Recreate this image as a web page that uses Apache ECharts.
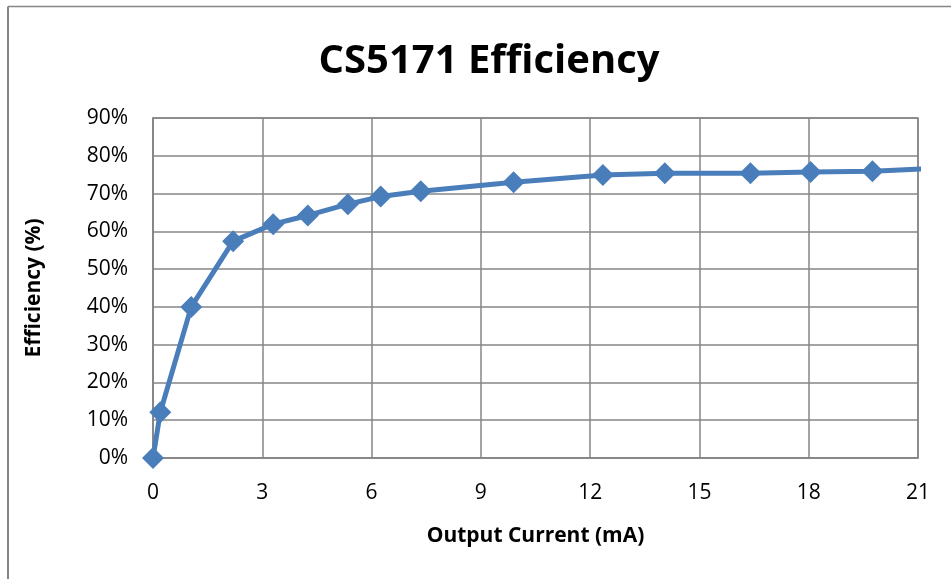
<!DOCTYPE html>
<html>
<head>
<meta charset="utf-8">
<script src="https://cdn.jsdelivr.net/npm/echarts@6/dist/echarts.min.js"></script>
<style>
  html, body { margin: 0; padding: 0; background: #fff; }
  #chart { width: 951px; height: 579px; }
</style>
</head>
<body>
<div id="chart"></div>
<script>
// output current (mA) and efficiency (%)
var currentMA = [0, 0.2, 1.05, 2.2, 3.3, 4.25, 5.35, 6.25, 7.35, 9.9, 12.35, 14.05, 16.4, 18.05, 19.75, 21.3];
var efficiency = [0, 12.1, 40, 57.4, 61.9, 64.2, 67.2, 69.2, 70.6, 73, 74.9, 75.4, 75.4, 75.7, 75.9, 76.6];

var fontFam = '"Open Sans", sans-serif';

var points = [];
for (var i = 0; i < currentMA.length; i++) {
    points.push([currentMA[i], efficiency[i]]);
}

var chart = echarts.init(document.getElementById('chart'));

var option = {
    backgroundColor: '#ffffff',
    animation: false,
    title: {
        text: 'CS5171 Efficiency',
        left: 484,
        textAlign: 'center',
        top: 37,
        textStyle: {
            fontFamily: fontFam,
            fontSize: 40,
            fontWeight: 'bold',
            color: '#000'
        }
    },
    grid: {
        left: 153,
        top: 118,
        right: 33,
        bottom: 121,
        show: true,
        borderColor: '#868686',
        borderWidth: 1.5
    },
    xAxis: {
        type: 'value',
        min: 0,
        max: 21,
        interval: 3,
        name: 'Output Current (mA)',
        nameLocation: 'middle',
        nameGap: 68,
        nameTextStyle: {
            fontFamily: fontFam,
            fontSize: 21,
            fontWeight: 'bold',
            color: '#000'
        },
        axisLine: { show: true, lineStyle: { color: '#868686', width: 1.5 } },
        axisTick: { show: false },
        axisLabel: {
            margin: 25,
            fontFamily: fontFam,
            fontSize: 21,
            color: '#000'
        },
        splitLine: { show: true, lineStyle: { color: '#868686', width: 1.5 } }
    },
    yAxis: {
        type: 'value',
        min: 0,
        max: 90,
        interval: 10,
        name: 'Efficiency (%)',
        nameLocation: 'middle',
        nameGap: 108,
        nameTextStyle: {
            fontFamily: fontFam,
            fontSize: 21,
            fontWeight: 'bold',
            color: '#000'
        },
        axisLine: { show: true, lineStyle: { color: '#868686', width: 1.5 } },
        axisTick: { show: false },
        axisLabel: {
            margin: 25,
            fontFamily: fontFam,
            fontSize: 21,
            color: '#000',
            formatter: '{value}%'
        },
        splitLine: { show: true, lineStyle: { color: '#868686', width: 1.5 } }
    },
    graphic: [
        {
            type: 'line',
            shape: { x1: 8, y1: 6.5, x2: 951, y2: 6.5 },
            style: { stroke: '#868686', lineWidth: 1.5 }
        },
        {
            type: 'line',
            shape: { x1: 8, y1: 6.5, x2: 8, y2: 579 },
            style: { stroke: '#868686', lineWidth: 2 }
        }
    ],
    series: [
        {
            type: 'line',
            data: points,
            clip: true,
            symbol: 'diamond',
            symbolSize: 22,
            lineStyle: { color: '#4a7ebb', width: 5 },
            itemStyle: { color: '#4a7ebb' }
        }
    ]
};

chart.setOption(option);
</script>
</body>
</html>
